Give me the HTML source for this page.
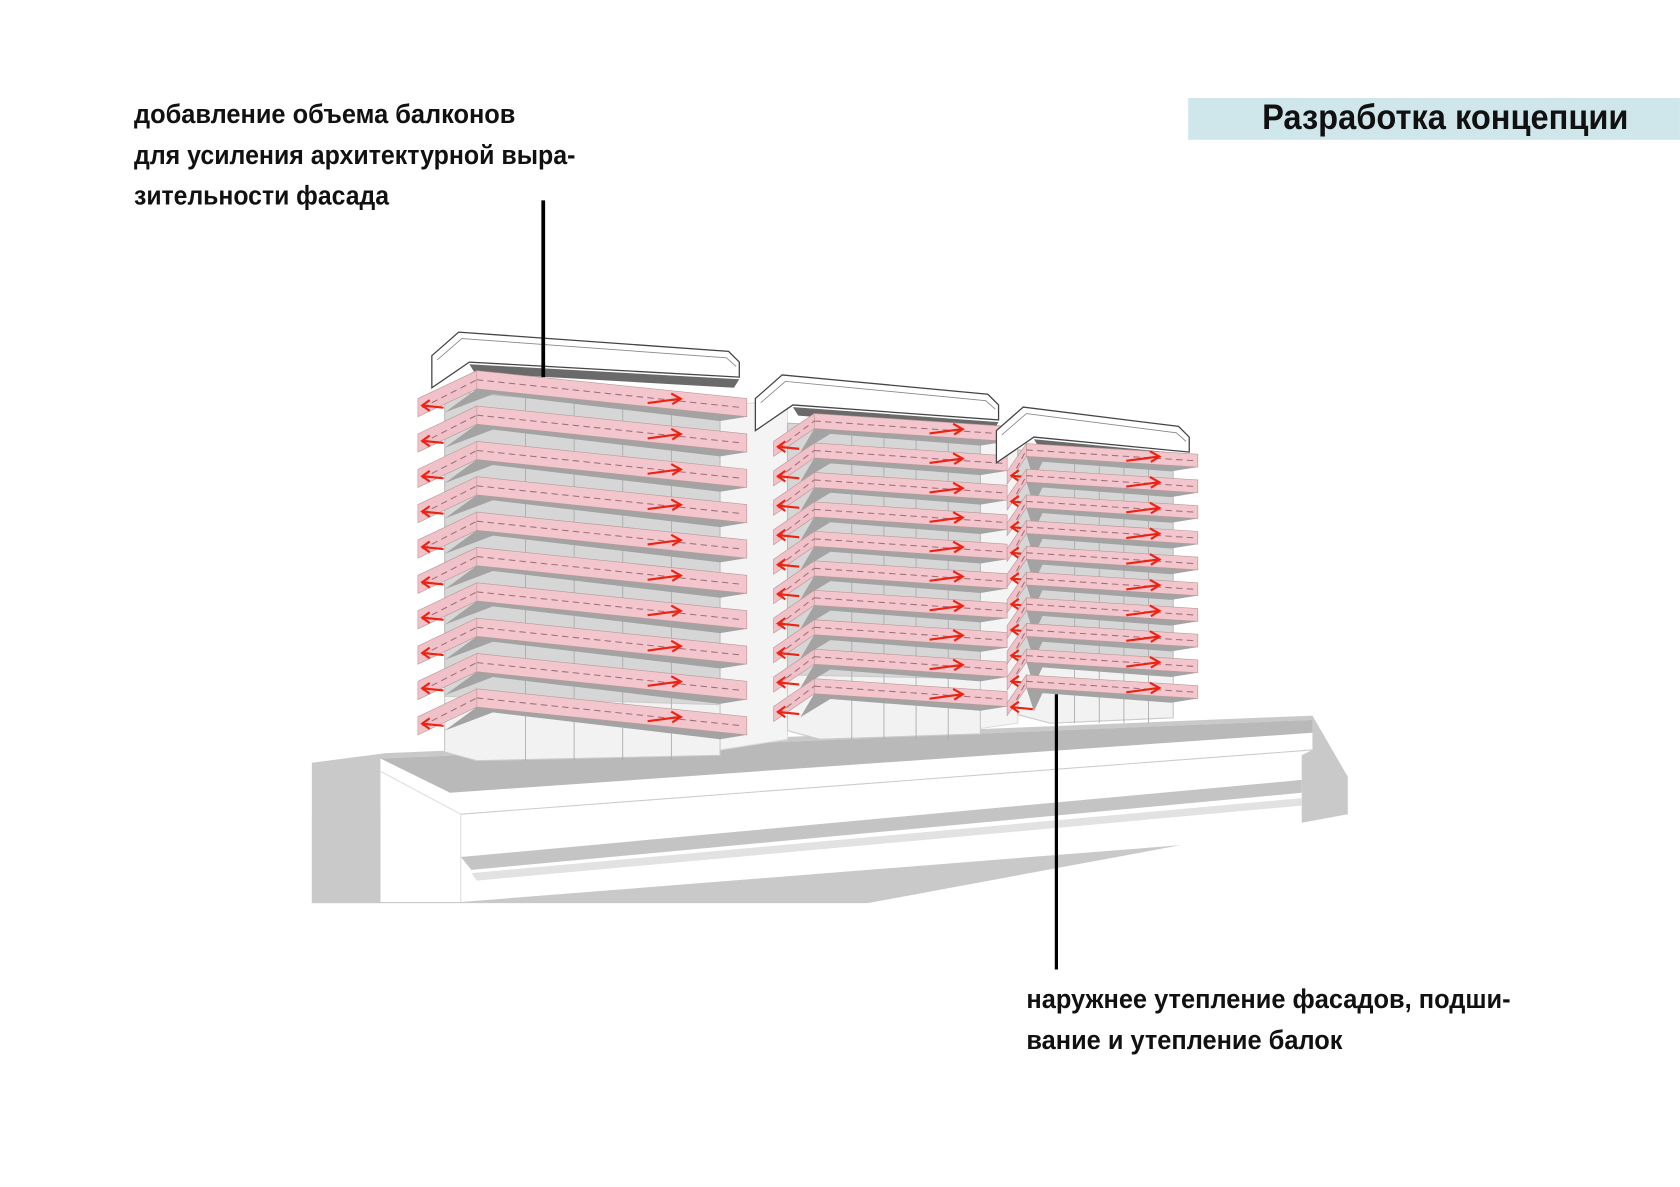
<!DOCTYPE html>
<html><head><meta charset="utf-8">
<style>
html,body{margin:0;padding:0;background:#fff;}
svg{display:block;}
text{font-family:"Liberation Sans Narrow","Liberation Sans","DejaVu Sans Condensed",sans-serif;fill:#111;}
</style></head>
<body>
<svg id="s" width="1680" height="1187" viewBox="0 0 1568 1108" xmlns="http://www.w3.org/2000/svg">
<rect width="1568" height="1108" fill="#fff"/>
<rect x="1109" y="91.5" width="459" height="39" fill="#cfe6ea"/>
<text x="1178" y="120.5" font-size="33" font-weight="bold" textLength="342" lengthAdjust="spacingAndGlyphs">Разработка концепции</text>
<text x="125" y="115" font-size="25" font-weight="bold" textLength="356" lengthAdjust="spacingAndGlyphs">добавление объема балконов</text>
<text x="125" y="153" font-size="25" font-weight="bold" textLength="412" lengthAdjust="spacingAndGlyphs">для усиления архитектурной выра-</text>
<text x="125" y="191" font-size="25" font-weight="bold" textLength="238" lengthAdjust="spacingAndGlyphs">зительности фасада</text>
<text x="958" y="941" font-size="25" font-weight="bold" textLength="452" lengthAdjust="spacingAndGlyphs">наружнее утепление фасадов, подши-</text>
<text x="958" y="979" font-size="25" font-weight="bold" textLength="295" lengthAdjust="spacingAndGlyphs">вание и утепление балок</text>

<polygon points="291,712 360,703 1225,668 1258,725 1258,760 810,843 291,843" fill="#c9c9c9"/>
<polygon points="355,708 1225,672 1225,700 1215,705 1215,780 430,842 355,842" fill="#ffffff"/>
<polygon points="355,708 1225,672 1225,684 420,740" fill="#b9b9b9"/>
<polygon points="430,800 1215,728 1215,740 440,812" fill="#c4c4c4"/>
<polygon points="440,815 1215,745 1215,752 445,822" fill="#e2e2e2"/>
<polygon points="291,843 291,760 355,760 355,843" fill="#c9c9c9"/>
<line x1="430" y1="760" x2="1225" y2="700" stroke="#ccc" stroke-width="1"/>
<line x1="355" y1="720" x2="430" y2="760" stroke="#ddd"/>
<line x1="430" y1="760" x2="430" y2="842" stroke="#ddd"/>
<g id="bld"></g>
<line x1="507" y1="187" x2="507" y2="352" stroke="#000" stroke-width="3.5"/>
<line x1="986" y1="648" x2="986" y2="905" stroke="#000" stroke-width="3"/>
</svg>
<script>
const g=document.getElementById('bld');const NS='http://www.w3.org/2000/svg';
function el(t,a){const e=document.createElementNS(NS,t);for(const k in a)e.setAttribute(k,a[k]);g.appendChild(e);return e;}
function P(pts,fill,stroke,sw){return el('polygon',{points:pts.map(p=>p.join(',')).join(' '),fill:fill,stroke:stroke||'none','stroke-width':sw||1});}
P([[672,380],[735,372],[735,690],[672,700]],'#f4f4f4','#ddd');
P([[915,395],[950,400],[950,675],[915,680]],'#f4f4f4','#ddd');
function tower(o){
 const {xl,xs,xr,bodyL,bodyR,top,bot,t0,step,n,slope,th,roof}=o;
 P([[bodyL,top+10],[bodyR,top+10+slope*0.8],[bodyR,bot-5],[bodyL+30,bot],[bodyL,bot-8]],'#d6d6d6','#bbb');
 P([[bodyL,bot-60],[bodyR,bot-60+slope*0.3],[bodyR,bot-5],[bodyL+30,bot],[bodyL,bot-8]],'#f2f2f2','#ccc');
 for(let k=1;k<5;k++){const x=bodyL+30+(bodyR-bodyL-30)*k/5;el('line',{x1:x,y1:top+10,x2:x,y2:bot,stroke:'#aaa','stroke-width':0.8});}
 P([[roof[0],roof[2]+22],[roof[0]+25,roof[2]],[roof[1]-10,roof[2]+18],[roof[1],roof[2]+28],[roof[1],roof[2]+42],[roof[0]+35,roof[2]+28],[roof[0],roof[2]+52]],'#fff','#444',1.2);
 P([[roof[0]+35,roof[2]+30],[roof[1],roof[2]+44],[roof[1]-5,roof[2]+52],[roof[0]+40,roof[2]+38]],'#6a6a6a');
 el('polyline',{points:`${roof[0]+5},${roof[2]+26} ${roof[0]+28},${roof[2]+6} ${roof[1]-12},${roof[2]+24} ${roof[1]-3},${roof[2]+32}`,fill:'none',stroke:'#888','stroke-width':0.8});
 for(let i=0;i<n;i++){
  const t=t0+i*step;
  P([[xs,t+th],[xr,t+th+slope],[xr-25,t+th+slope+4],[xs+15,t+th+5],[xl+25,t+th+22]],'#a3a3a3');
  P([[xl,t+26],[xs,t],[xs,t+th],[xl,t+26+th]],'#f0c1c8','#b99',0.6);
  P([[xs,t],[xr,t+slope],[xr,t+slope+th],[xs,t+th]],'#f3c6cd','#b99',0.6);
  el('line',{x1:xs,y1:t+th/2,x2:xr-4,y2:t+slope+th/2,stroke:'#a07078','stroke-width':1,'stroke-dasharray':'6,4'});
  el('line',{x1:xl+4,y1:t+26+th/2,x2:xs,y2:t+th/2,stroke:'#a07078','stroke-width':1,'stroke-dasharray':'6,4'});
  const ax=xs+(xr-xs)*0.72, ay=t+slope*0.72+th/2;
  el('line',{x1:ax-22,y1:ay+3,x2:ax+8,y2:ay-1,stroke:'#e21',"stroke-width":2});
  el('polyline',{points:`${ax},${ay-6} ${ax+9},${ay-1} ${ax+1},${ay+4}`,fill:'none',stroke:'#e21','stroke-width':2});
  const bx=xl+4,by=t+26+th/2-2;
  el('line',{x1:bx,y1:by,x2:bx+20,y2:by+2,stroke:'#e21','stroke-width':2});
  el('polyline',{points:`${bx+7},${by-5} ${bx},${by} ${bx+7},${by+5}`,fill:'none',stroke:'#e21','stroke-width':2});
 }
}
tower({xl:390,xs:445,xr:697,bodyL:415,bodyR:672,top:355,bot:710,t0:346,step:33,n:10,slope:26,th:17,roof:[403,690,310]});
tower({xl:722,xs:760,xr:940,bodyL:735,bodyR:915,top:385,bot:690,t0:386,step:27.5,n:10,slope:12,th:14,roof:[705,932,350]});
tower({xl:940,xs:958,xr:1118,bodyL:950,bodyR:1095,top:410,bot:675,t0:414,step:24,n:10,slope:10,th:12,roof:[930,1110,380]});
</script>
</body></html>
